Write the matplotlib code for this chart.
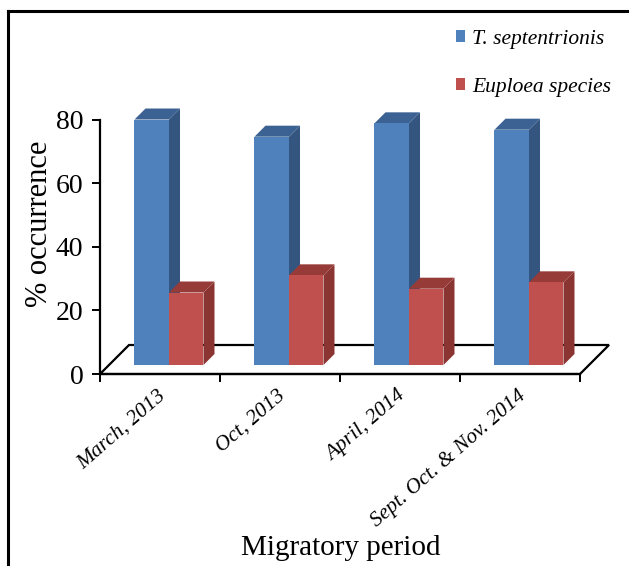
import numpy as np
import matplotlib
matplotlib.use("Agg")
import matplotlib.pyplot as plt
from matplotlib.patches import Polygon, Patch
from matplotlib.lines import Line2D
from matplotlib.transforms import ScaledTranslation

periods = ["March, 2013", "Oct, 2013", "April, 2014", "Sept. Oct. & Nov. 2014"]
t_sept = [77.2, 71.8, 76.0, 74.0]
euploea = [22.8, 28.2, 24.0, 26.0]
series_names = ["T. septentrionis", "Euploea species"]
yticks = [0, 20, 40, 60, 80]

# face colours: front, side, top
blue = ("#4f81bd", "#34557f", "#3c6293")
red = ("#c0504d", "#8b3533", "#973b38")

plt.rcParams["font.family"] = ["Liberation Serif", "DejaVu Serif"]

W, H = 629, 566
fig = plt.figure(figsize=(W / 100, H / 100), dpi=100)
fig.patch.set_facecolor("white")

# 120 px per category, 3.18 px per percent
ax = fig.add_axes([100 / W, 192 / H, 520 / W, 300 / H])
ax.set_xlim(0, 520 / 120)
ax.set_ylim(0, 300 / 3.18)
ax.patch.set_visible(False)

# floor of the 3d box
fdx, fdy = 29 / 120, 29 / 3.18
n = len(periods)
floor = Polygon([(0, 0), (n, 0), (n + fdx, fdy), (fdx, fdy)], closed=True,
                facecolor="white", edgecolor="black", lw=1.6, zorder=1, clip_on=False)
ax.add_patch(floor)

# bars sit part way back on the floor
ox, oy = 0.31 * fdx, 0.31 * fdy
bdx, bdy = 11 / 120, 11 / 3.18
bw = 0.2875


def bar3d(x0, h, cols):
    front, side, top = cols
    x0 += ox
    y0 = oy
    ax.add_patch(Polygon([(x0 + bw, y0), (x0 + bw + bdx, y0 + bdy),
                          (x0 + bw + bdx, y0 + h + bdy), (x0 + bw, y0 + h)],
                         facecolor=side, edgecolor="none", zorder=2, clip_on=False))
    ax.add_patch(Polygon([(x0, y0 + h), (x0 + bw, y0 + h),
                          (x0 + bw + bdx, y0 + h + bdy), (x0 + bdx, y0 + h + bdy)],
                         facecolor=top, edgecolor="none", zorder=2, clip_on=False))
    ax.add_patch(Polygon([(x0, y0), (x0 + bw, y0), (x0 + bw, y0 + h), (x0, y0 + h)],
                         facecolor=front, edgecolor="none", zorder=2, clip_on=False))


for i in range(n):
    left = i + 0.5 - bw
    bar3d(left, t_sept[i], blue)
    bar3d(left + bw, euploea[i], red)

# axes
for s in ["top", "right"]:
    ax.spines[s].set_visible(False)
ax.spines["left"].set_bounds(0, 80)
ax.spines["left"].set_linewidth(1.6)
ax.spines["bottom"].set_bounds(0, n)
ax.spines["bottom"].set_linewidth(1.6)
ax.set_yticks(yticks)
ax.tick_params(axis="y", length=6, width=1.4, pad=6, labelsize=20)
ax.set_xticks(range(n + 1))
ax.set_xticklabels([])
ax.tick_params(axis="x", which="major", length=6, width=1.4)
ax.set_xticks(np.arange(n) + 0.5, minor=True)
ax.set_xticklabels(periods, minor=True, fontsize=15.5, style="italic")
ax.tick_params(axis="x", which="minor", length=0, pad=9)
shift = ScaledTranslation(-3 / 100, 0, fig.dpi_scale_trans)
for lab in ax.get_xticklabels(minor=True):
    lab.set_rotation(41)
    lab.set_ha("right")
    lab.set_rotation_mode("anchor")
    lab.set_transform(lab.get_transform() + shift)

ax.set_ylabel("% occurrence", fontsize=22, labelpad=1)
fig.text(341 / W, 1 - 548 / H, "Migratory period", fontsize=21, ha="center", va="center")

handles = [Patch(facecolor=blue[0]), Patch(facecolor=red[0])]
leg = fig.legend(handles, series_names, loc="upper left", bbox_to_anchor=(445 / W, 1 - 19 / H),
                 frameon=False, borderpad=0, handlelength=0.45, handleheight=0.45,
                 handletextpad=0.3, labelspacing=1.35,
                 prop={"size": 15.5, "style": "italic"})

# outer frame
fig.add_artist(Line2D([8 / W, 8 / W], [0, 1 - 11 / H], color="black", lw=2.2))
fig.add_artist(Line2D([8 / W, 1], [1 - 11 / H, 1 - 11 / H], color="black", lw=2.2))

fig.savefig("out.png", dpi=100, facecolor="white")
